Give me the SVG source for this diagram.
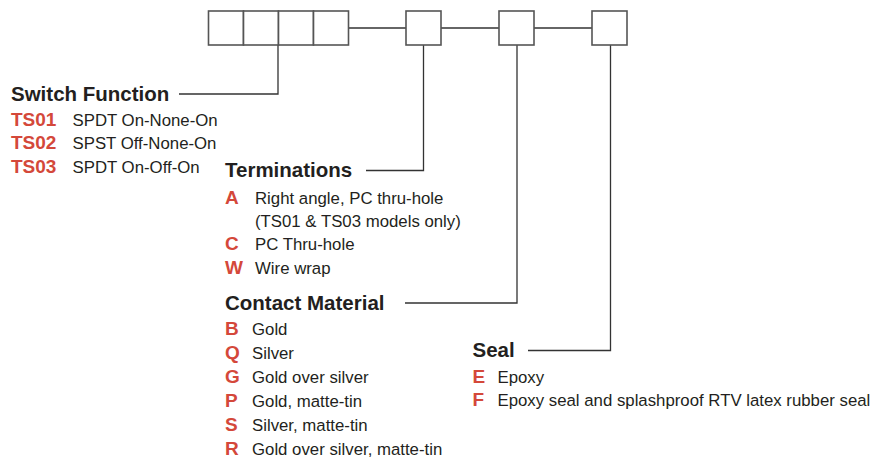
<svg xmlns="http://www.w3.org/2000/svg" width="876" height="458" viewBox="0 0 876 458">
<style>
.box{fill:#fff;stroke:#555;stroke-width:1.6}
.ln{fill:none;stroke:#333;stroke-width:1.3}
.h{font-family:"Liberation Sans",Arial,sans-serif;font-weight:bold;font-size:20.5px;fill:#231f20}
.c{font-family:"Liberation Sans",Arial,sans-serif;font-weight:bold;font-size:19px;fill:#d4483a}
.t{font-family:"Liberation Sans",Arial,sans-serif;font-size:16.8px;fill:#231f20}
</style>
<g id="connectors">
<line class="ln" x1="348" y1="28" x2="406" y2="28"/>
<line class="ln" x1="441" y1="28" x2="499" y2="28"/>
<line class="ln" x1="534" y1="28" x2="592" y2="28"/>
<polyline class="ln" points="278,45 278,94 179,94"/>
<polyline class="ln" points="423.5,45 423.5,170.5 366,170.5"/>
<polyline class="ln" points="517,45 517,303 405,303"/>
<polyline class="ln" points="610.5,45 610.5,350.5 528,350.5"/>
</g>
<g id="box1"><rect class="box" x="208.5" y="11" width="35" height="34"/></g>
<g id="box2"><rect class="box" x="243.5" y="11" width="35" height="34"/></g>
<g id="box3"><rect class="box" x="278.5" y="11" width="35" height="34"/></g>
<g id="box4"><rect class="box" x="313.5" y="11" width="35" height="34"/></g>
<g id="box5"><rect class="box" x="406" y="11" width="35" height="34"/></g>
<g id="box6"><rect class="box" x="499" y="11" width="35" height="34"/></g>
<g id="box7"><rect class="box" x="592" y="11" width="35" height="34"/></g>
<g id="switch-function">
<text class="h" x="11" y="101">Switch Function</text>
<text class="c" x="11" y="125.5">TS01</text><text class="t" x="72.5" y="125.5">SPDT On-None-On</text>
<text class="c" x="11" y="149">TS02</text><text class="t" x="72.5" y="149">SPST Off-None-On</text>
<text class="c" x="11" y="172.5">TS03</text><text class="t" x="72.5" y="172.5">SPDT On-Off-On</text>
</g>
<g id="terminations">
<text class="h" x="225" y="177">Terminations</text>
<text class="c" x="225" y="203.5">A</text><text class="t" x="255" y="203.5">Right angle, PC thru-hole</text>
<text class="t" x="255" y="226.5">(TS01 &amp; TS03 models only)</text>
<text class="c" x="225" y="250">C</text><text class="t" x="255" y="250">PC Thru-hole</text>
<text class="c" x="225" y="273.5">W</text><text class="t" x="255" y="273.5">Wire wrap</text>
</g>
<g id="contact-material">
<text class="h" x="225" y="310">Contact Material</text>
<text class="c" x="225" y="335">B</text><text class="t" x="252" y="335">Gold</text>
<text class="c" x="225" y="358.5">Q</text><text class="t" x="252" y="358.5">Silver</text>
<text class="c" x="225" y="383">G</text><text class="t" x="252" y="383">Gold over silver</text>
<text class="c" x="225" y="407">P</text><text class="t" x="252" y="407">Gold, matte-tin</text>
<text class="c" x="225" y="431">S</text><text class="t" x="252" y="431">Silver, matte-tin</text>
<text class="c" x="225" y="455">R</text><text class="t" x="252" y="455">Gold over silver, matte-tin</text>
</g>
<g id="seal">
<text class="h" x="472.5" y="357">Seal</text>
<text class="c" x="472.5" y="382.5">E</text><text class="t" x="497.5" y="382.5">Epoxy</text>
<text class="c" x="472.5" y="405.5">F</text><text class="t" x="497.5" y="405.5">Epoxy seal and splashproof RTV latex rubber seal</text>
</g>
</svg>
